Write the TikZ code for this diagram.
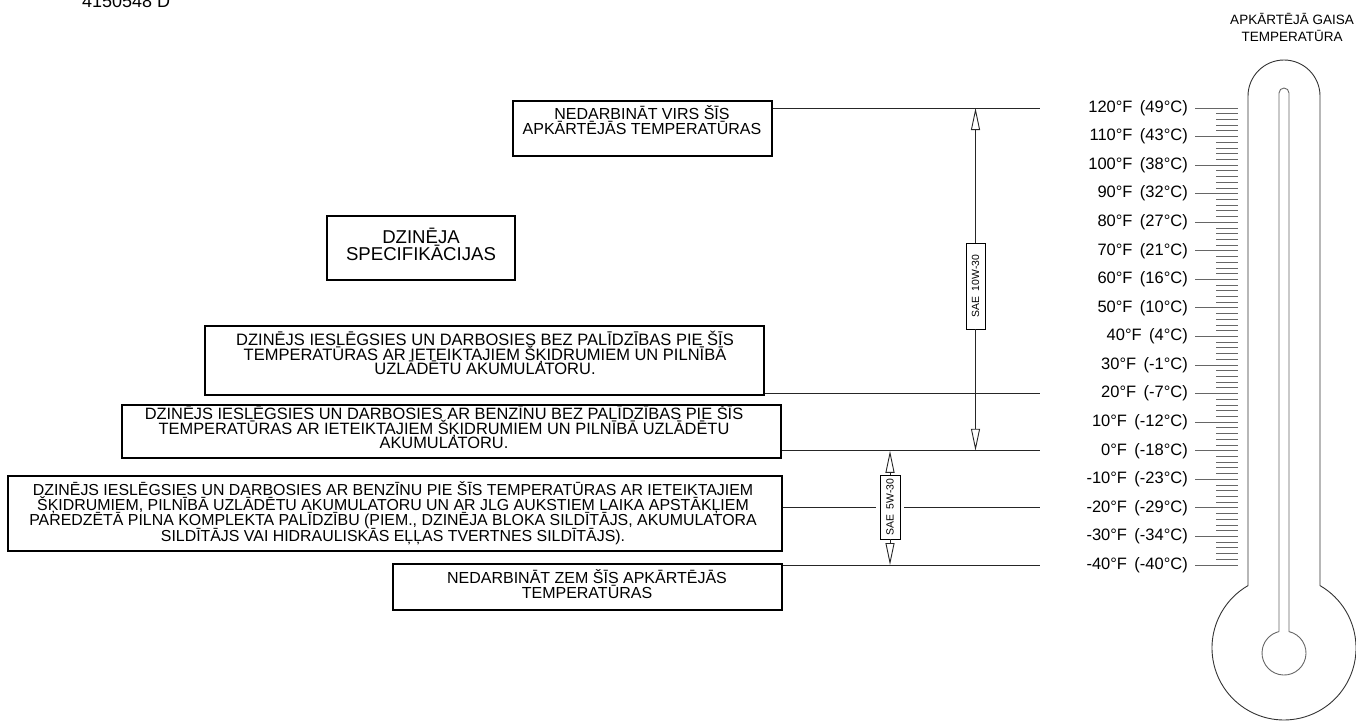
\documentclass[tikz,border=0pt]{standalone}
\usepackage{fontspec}
\setmainfont{Liberation Sans}
\usetikzlibrary{arrows.meta}
\newcommand{\tightlines}{\lineskiplimit=-1000pt\relax\lineskip=0pt\relax}
\tikzset{
    framebox/.style={draw, line width=1.6pt, inner sep=0pt},
    boxtext/.style={align=center, inner sep=0pt, font=\fontsize{16}{14.5}\selectfont\tightlines},
    rowline/.style={line width=0.9pt, black!85},
    tickmark/.style={line width=0.9pt, black!60},
    % rotated oil grade labels
    saelabel/.style={draw, line width=0.8pt, rotate=90, inner sep=0pt, fill=white,
        font=\fontsize{10.4}{12}\selectfont, preaction={draw=white, line width=8pt}},
    dimarrow/.style={line width=0.9pt, black!85, -{Triangle[open, length=22pt, width=9pt]}}
}

\begin{document}
\begin{tikzpicture}[x=1pt, y=-1pt]
    \useasboundingbox (0,0) rectangle (1356,721);

    \node[anchor=base west, inner sep=0pt, font=\fontsize{18}{18}\selectfont] (docnum) at (82,7) {4150548 D};
    \node[align=center, inner sep=0pt, font=\fontsize{13.5}{17}\selectfont] (hdr) at (1292,27) {APKĀRTĒJĀ GAISA\\TEMPERATŪRA};

    % frames
    \node[framebox, minimum width=259pt, minimum height=55pt] (boxA) at (642.5,128.5) {};
    \node[framebox, minimum width=188pt, minimum height=64pt] (boxB) at (421,248) {};
    \node[framebox, minimum width=559pt, minimum height=69pt] (boxC) at (484.5,360.5) {};
    \node[framebox, minimum width=659pt, minimum height=53pt] (boxD) at (451.5,431.5) {};
    \node[framebox, minimum width=774pt, minimum height=75pt] (boxE) at (395,513.5) {};
    \node[framebox, minimum width=389pt, minimum height=46pt] (boxF) at (587.5,587) {};

    \node[boxtext] (txtA) at (642,120) {NEDARBINĀT VIRS ŠĪS\\APKĀRTĒJĀS TEMPERATŪRAS};
    \node[boxtext, font=\fontsize{18.6}{17}\selectfont\tightlines] (txtB) at (421,244.5) {DZINĒJA\\SPECIFIKĀCIJAS};
    \node[boxtext, font=\fontsize{16.5}{14.5}\selectfont\tightlines] (txtC) at (485,353) {DZINĒJS IESLĒGSIES UN DARBOSIES BEZ PALĪDZĪBAS PIE ŠĪS\\TEMPERATŪRAS AR IETEIKTAJIEM ŠĶIDRUMIEM UN PILNĪBĀ\\UZLĀDĒTU AKUMULATORU.};
    \node[boxtext, font=\fontsize{16.4}{14.5}\selectfont\tightlines] (txtD) at (444,427) {DZINĒJS IESLĒGSIES UN DARBOSIES AR BENZĪNU BEZ PALĪDZĪBAS PIE ŠĪS\\TEMPERATŪRAS AR IETEIKTAJIEM ŠĶIDRUMIEM UN PILNĪBĀ UZLĀDĒTU\\AKUMULATORU.};
    \node[boxtext, font=\fontsize{15.9}{15.3}\selectfont\tightlines] (txtE) at (393,513) {DZINĒJS IESLĒGSIES UN DARBOSIES AR BENZĪNU PIE ŠĪS TEMPERATŪRAS AR IETEIKTAJIEM\\ŠĶIDRUMIEM, PILNĪBĀ UZLĀDĒTU AKUMULATORU UN AR JLG AUKSTIEM LAIKA APSTĀKĻIEM\\PAREDZĒTĀ PILNA KOMPLEKTA PALĪDZĪBU (PIEM., DZINĒJA BLOKA SILDĪTĀJS, AKUMULATORA\\SILDĪTĀJS VAI HIDRAULISKĀS EĻĻAS TVERTNES SILDĪTĀJS).};
    \node[boxtext] (txtF) at (587,584) {NEDARBINĀT ZEM ŠĪS APKĀRTĒJĀS\\TEMPERATŪRAS};

    % thermometer
    \draw[line width=0.9pt, black!80] (1248,585.6) -- (1248,96) arc[start angle=180, end angle=360, radius=36]
        -- (1320,585.6) arc[start angle=-60, end angle=240, radius=72];
    \draw[line width=0.9pt, black!60] (1279,631.6) -- (1279,93) arc[start angle=180, end angle=360, radius=5]
        -- (1289,631.6) arc[start angle=-76.86, end angle=256.86, radius=22];

    % scale
    \foreach \k in {0,...,80}
        \draw[tickmark] (1216,108+\k*5.7125) -- (1238,108+\k*5.7125);
    \foreach \f/\c [count=\i from 0] in {120/49,110/43,100/38,90/32,80/27,70/21,60/16,50/10,40/4,30/-1,20/-7,10/-12,0/-18,-10/-23,-20/-29,-30/-34,-40/-40}{
        \node[anchor=east, inner sep=0pt, font=\fontsize{16.5}{18}\selectfont] (lbl\i) at (1188,108+\i*28.5625) {\f°F\hspace{0.45em}(\c°C)};
        \draw[tickmark] ([xshift=7pt]lbl\i.east) -- ++(43,0);
        \coordinate (row\i) at (1040,108+\i*28.5625);
    }

    \draw[rowline] (boxA.east |- row0) -- (row0);
    \draw[rowline] (boxC.east |- row10) -- (row10);
    \draw[rowline] (boxD.east |- row12) -- (row12);
    \draw[rowline] (boxE.east |- row14) -- (row14);
    \draw[rowline] (boxF.east |- row16) -- (row16);

    % oil grades
    \node[saelabel, minimum width=86pt, minimum height=19pt] (sae10) at (975.5,286) {SAE\hspace{0.5em}10W-30};
    \node[saelabel, minimum width=64pt, minimum height=20pt] (sae5) at (890,507) {SAE\hspace{0.5em}5W-30};
    \draw[dimarrow] (sae10) -- (sae10 |- row0);
    \draw[dimarrow] (sae10) -- (sae10 |- row12);
    \draw[dimarrow] (sae5) -- (sae5 |- row12);
    \draw[dimarrow] (sae5) -- (sae5 |- row16);
\end{tikzpicture}
\end{document}
